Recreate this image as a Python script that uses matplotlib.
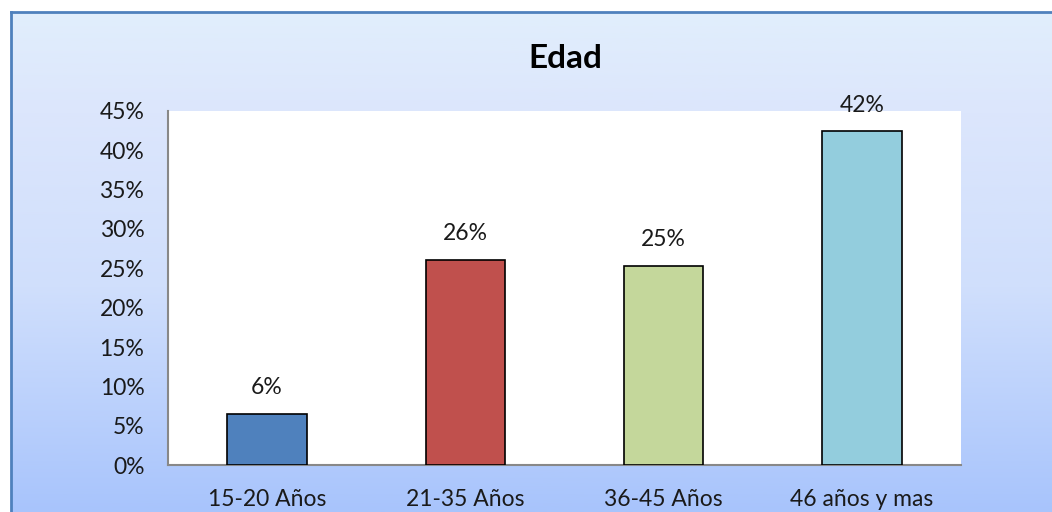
import numpy as np
import matplotlib.pyplot as plt
from matplotlib.colors import LinearSegmentedColormap

plt.rcParams['font.family'] = ['Lato', 'DejaVu Sans']

categories = ["15-20 Años", "21-35 Años", "36-45 Años", "46 años y mas"]
values = [0.065, 0.261, 0.253, 0.424]
labels = ["6%", "26%", "25%", "42%"]
colors = ["#4f81bd", "#c0504d", "#c4d79b", "#93cddd"]
yticks = np.arange(0, 0.451, 0.05)

W, H = 1052, 512
fig = plt.figure(figsize=(W / 100, H / 100), dpi=100)
fig.patch.set_facecolor("white")

# chart area background with vertical gradient
bg = fig.add_axes([11 / W, 0, 1 - 11 / W, 1 - 12 / H])
grad_cmap = LinearSegmentedColormap.from_list(
    "bg", [(0.0, "#e1eefc"), (0.2, "#dce6fc"), (0.55, "#d0dffc"), (1.0, "#a8c4fc")])
grad = np.linspace(0, 1, 256).reshape(-1, 1)
bg.imshow(grad, aspect="auto", cmap=grad_cmap, extent=[0, 1, 0, 1], origin="upper")
bg.set_xticks([])
bg.set_yticks([])
for side in ["right", "bottom"]:
    bg.spines[side].set_visible(False)
for side in ["left", "top"]:
    bg.spines[side].set_color("#4f81bd")
    bg.spines[side].set_linewidth(2)

ax = fig.add_axes([168 / W, 1 - 465 / H, (961 - 168) / W, (465 - 111) / H])
ax.set_facecolor("white")
x = np.arange(len(categories))
ax.bar(x, values, width=0.4, color=colors, edgecolor="black", linewidth=1.2, zorder=3)
for xi, v, lab in zip(x, values, labels):
    ax.annotate(lab, (xi, v), xytext=(0, 19), textcoords="offset points",
                ha="center", va="center", fontsize=16.5, color="#1a1a1a",
                annotation_clip=False)

ax.set_xlim(-0.5, len(categories) - 0.5)
ax.set_ylim(0, 0.45)
ax.set_yticks(yticks)
ax.set_yticklabels([f"{int(round(t * 100))}%" for t in yticks])
ax.set_xticks(x)
ax.set_xticklabels(categories)
ax.tick_params(axis="both", length=0, labelsize=16.5, labelcolor="#1a1a1a")
ax.tick_params(axis="y", pad=17)
ax.tick_params(axis="x", pad=17)
for side in ["top", "right"]:
    ax.spines[side].set_visible(False)
for side in ["left", "bottom"]:
    ax.spines[side].set_color("#888888")
    ax.spines[side].set_linewidth(1.5)

fig.text(565 / W, 1 - 58 / H, "Edad", ha="center", va="center",
         fontsize=24, fontweight="bold", color="black")

fig.savefig("out.png", dpi=100)
